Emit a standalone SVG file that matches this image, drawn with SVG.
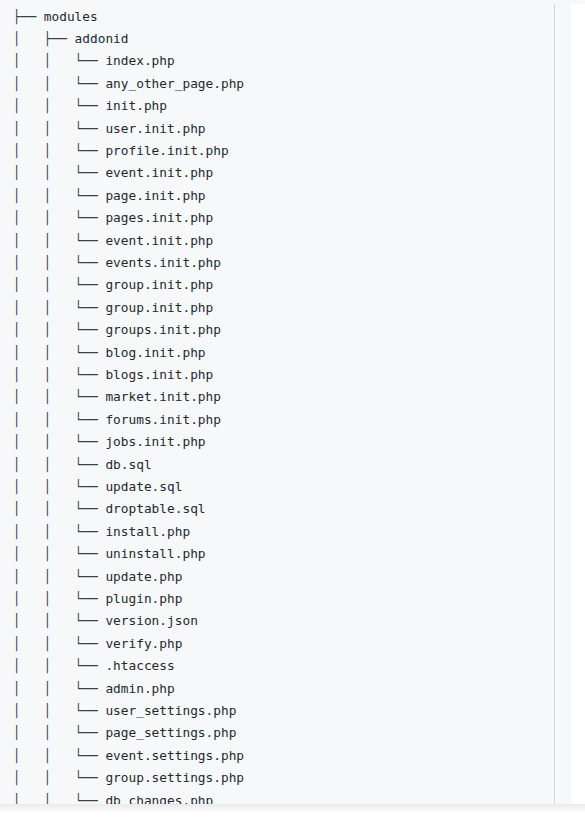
<svg xmlns="http://www.w3.org/2000/svg" width="585" height="819" viewBox="0 0 585 819">
<style>
text{font-family:"DejaVu Sans Mono","Liberation Mono",monospace;font-size:12.8px;fill:#24292f;white-space:pre}
.t{fill:#3a3f45}
</style>
<defs>
<clipPath id="clip"><rect x="0" y="0" width="554" height="804"/></clipPath>
<linearGradient id="sh" x1="0" y1="0" x2="0" y2="1"><stop offset="0" stop-color="#e9eaeb"/><stop offset="1" stop-color="#ffffff"/></linearGradient>
</defs>
<rect x="0" y="0" width="585" height="819" fill="#ffffff"/>
<rect x="0" y="0" width="585" height="4" fill="#f6f8fa"/>
<rect x="0" y="0" width="571" height="804" fill="#f6f8fa"/>
<line x1="554.5" y1="4" x2="554.5" y2="804" stroke="#d4d8dd" stroke-width="1"/>
<rect x="0" y="804" width="585" height="9" fill="url(#sh)"/>
<g clip-path="url(#clip)">
<g id="connectors">
<text class="t" x="13" y="20.5" xml:space="preserve">├──</text>
<text class="t" x="13" y="42.9" xml:space="preserve">│   ├──</text>
<text class="t" x="13" y="65.3" xml:space="preserve">│   │   └──</text>
<text class="t" x="13" y="87.7" xml:space="preserve">│   │   └──</text>
<text class="t" x="13" y="110.1" xml:space="preserve">│   │   └──</text>
<text class="t" x="13" y="132.5" xml:space="preserve">│   │   └──</text>
<text class="t" x="13" y="154.9" xml:space="preserve">│   │   └──</text>
<text class="t" x="13" y="177.3" xml:space="preserve">│   │   └──</text>
<text class="t" x="13" y="199.7" xml:space="preserve">│   │   └──</text>
<text class="t" x="13" y="222.1" xml:space="preserve">│   │   └──</text>
<text class="t" x="13" y="244.5" xml:space="preserve">│   │   └──</text>
<text class="t" x="13" y="266.9" xml:space="preserve">│   │   └──</text>
<text class="t" x="13" y="289.3" xml:space="preserve">│   │   └──</text>
<text class="t" x="13" y="311.7" xml:space="preserve">│   │   └──</text>
<text class="t" x="13" y="334.1" xml:space="preserve">│   │   └──</text>
<text class="t" x="13" y="356.5" xml:space="preserve">│   │   └──</text>
<text class="t" x="13" y="378.9" xml:space="preserve">│   │   └──</text>
<text class="t" x="13" y="401.3" xml:space="preserve">│   │   └──</text>
<text class="t" x="13" y="423.7" xml:space="preserve">│   │   └──</text>
<text class="t" x="13" y="446.1" xml:space="preserve">│   │   └──</text>
<text class="t" x="13" y="468.5" xml:space="preserve">│   │   └──</text>
<text class="t" x="13" y="490.9" xml:space="preserve">│   │   └──</text>
<text class="t" x="13" y="513.3" xml:space="preserve">│   │   └──</text>
<text class="t" x="13" y="535.7" xml:space="preserve">│   │   └──</text>
<text class="t" x="13" y="558.1" xml:space="preserve">│   │   └──</text>
<text class="t" x="13" y="580.5" xml:space="preserve">│   │   └──</text>
<text class="t" x="13" y="602.9" xml:space="preserve">│   │   └──</text>
<text class="t" x="13" y="625.3" xml:space="preserve">│   │   └──</text>
<text class="t" x="13" y="647.7" xml:space="preserve">│   │   └──</text>
<text class="t" x="13" y="670.1" xml:space="preserve">│   │   └──</text>
<text class="t" x="13" y="692.5" xml:space="preserve">│   │   └──</text>
<text class="t" x="13" y="714.9" xml:space="preserve">│   │   └──</text>
<text class="t" x="13" y="737.3" xml:space="preserve">│   │   └──</text>
<text class="t" x="13" y="759.7" xml:space="preserve">│   │   └──</text>
<text class="t" x="13" y="782.1" xml:space="preserve">│   │   └──</text>
<text class="t" x="13" y="804.5" xml:space="preserve">│   │   └──</text>
</g>
<g id="modules"><text x="43.8" y="20.5">modules</text></g>
<g id="addonid"><text x="74.6" y="42.9">addonid</text></g>
<g id="f01"><text x="105.4" y="65.3">index.php</text></g>
<g id="f02"><text x="105.4" y="87.7">any_other_page.php</text></g>
<g id="f03"><text x="105.4" y="110.1">init.php</text></g>
<g id="f04"><text x="105.4" y="132.5">user.init.php</text></g>
<g id="f05"><text x="105.4" y="154.9">profile.init.php</text></g>
<g id="f06"><text x="105.4" y="177.3">event.init.php</text></g>
<g id="f07"><text x="105.4" y="199.7">page.init.php</text></g>
<g id="f08"><text x="105.4" y="222.1">pages.init.php</text></g>
<g id="f09"><text x="105.4" y="244.5">event.init.php</text></g>
<g id="f10"><text x="105.4" y="266.9">events.init.php</text></g>
<g id="f11"><text x="105.4" y="289.3">group.init.php</text></g>
<g id="f12"><text x="105.4" y="311.7">group.init.php</text></g>
<g id="f13"><text x="105.4" y="334.1">groups.init.php</text></g>
<g id="f14"><text x="105.4" y="356.5">blog.init.php</text></g>
<g id="f15"><text x="105.4" y="378.9">blogs.init.php</text></g>
<g id="f16"><text x="105.4" y="401.3">market.init.php</text></g>
<g id="f17"><text x="105.4" y="423.7">forums.init.php</text></g>
<g id="f18"><text x="105.4" y="446.1">jobs.init.php</text></g>
<g id="f19"><text x="105.4" y="468.5">db.sql</text></g>
<g id="f20"><text x="105.4" y="490.9">update.sql</text></g>
<g id="f21"><text x="105.4" y="513.3">droptable.sql</text></g>
<g id="f22"><text x="105.4" y="535.7">install.php</text></g>
<g id="f23"><text x="105.4" y="558.1">uninstall.php</text></g>
<g id="f24"><text x="105.4" y="580.5">update.php</text></g>
<g id="f25"><text x="105.4" y="602.9">plugin.php</text></g>
<g id="f26"><text x="105.4" y="625.3">version.json</text></g>
<g id="f27"><text x="105.4" y="647.7">verify.php</text></g>
<g id="f28"><text x="105.4" y="670.1">.htaccess</text></g>
<g id="f29"><text x="105.4" y="692.5">admin.php</text></g>
<g id="f30"><text x="105.4" y="714.9">user_settings.php</text></g>
<g id="f31"><text x="105.4" y="737.3">page_settings.php</text></g>
<g id="f32"><text x="105.4" y="759.7">event.settings.php</text></g>
<g id="f33"><text x="105.4" y="782.1">group.settings.php</text></g>
<g id="f34"><text x="105.4" y="804.5">db_changes.php</text></g>
</g>
</svg>
